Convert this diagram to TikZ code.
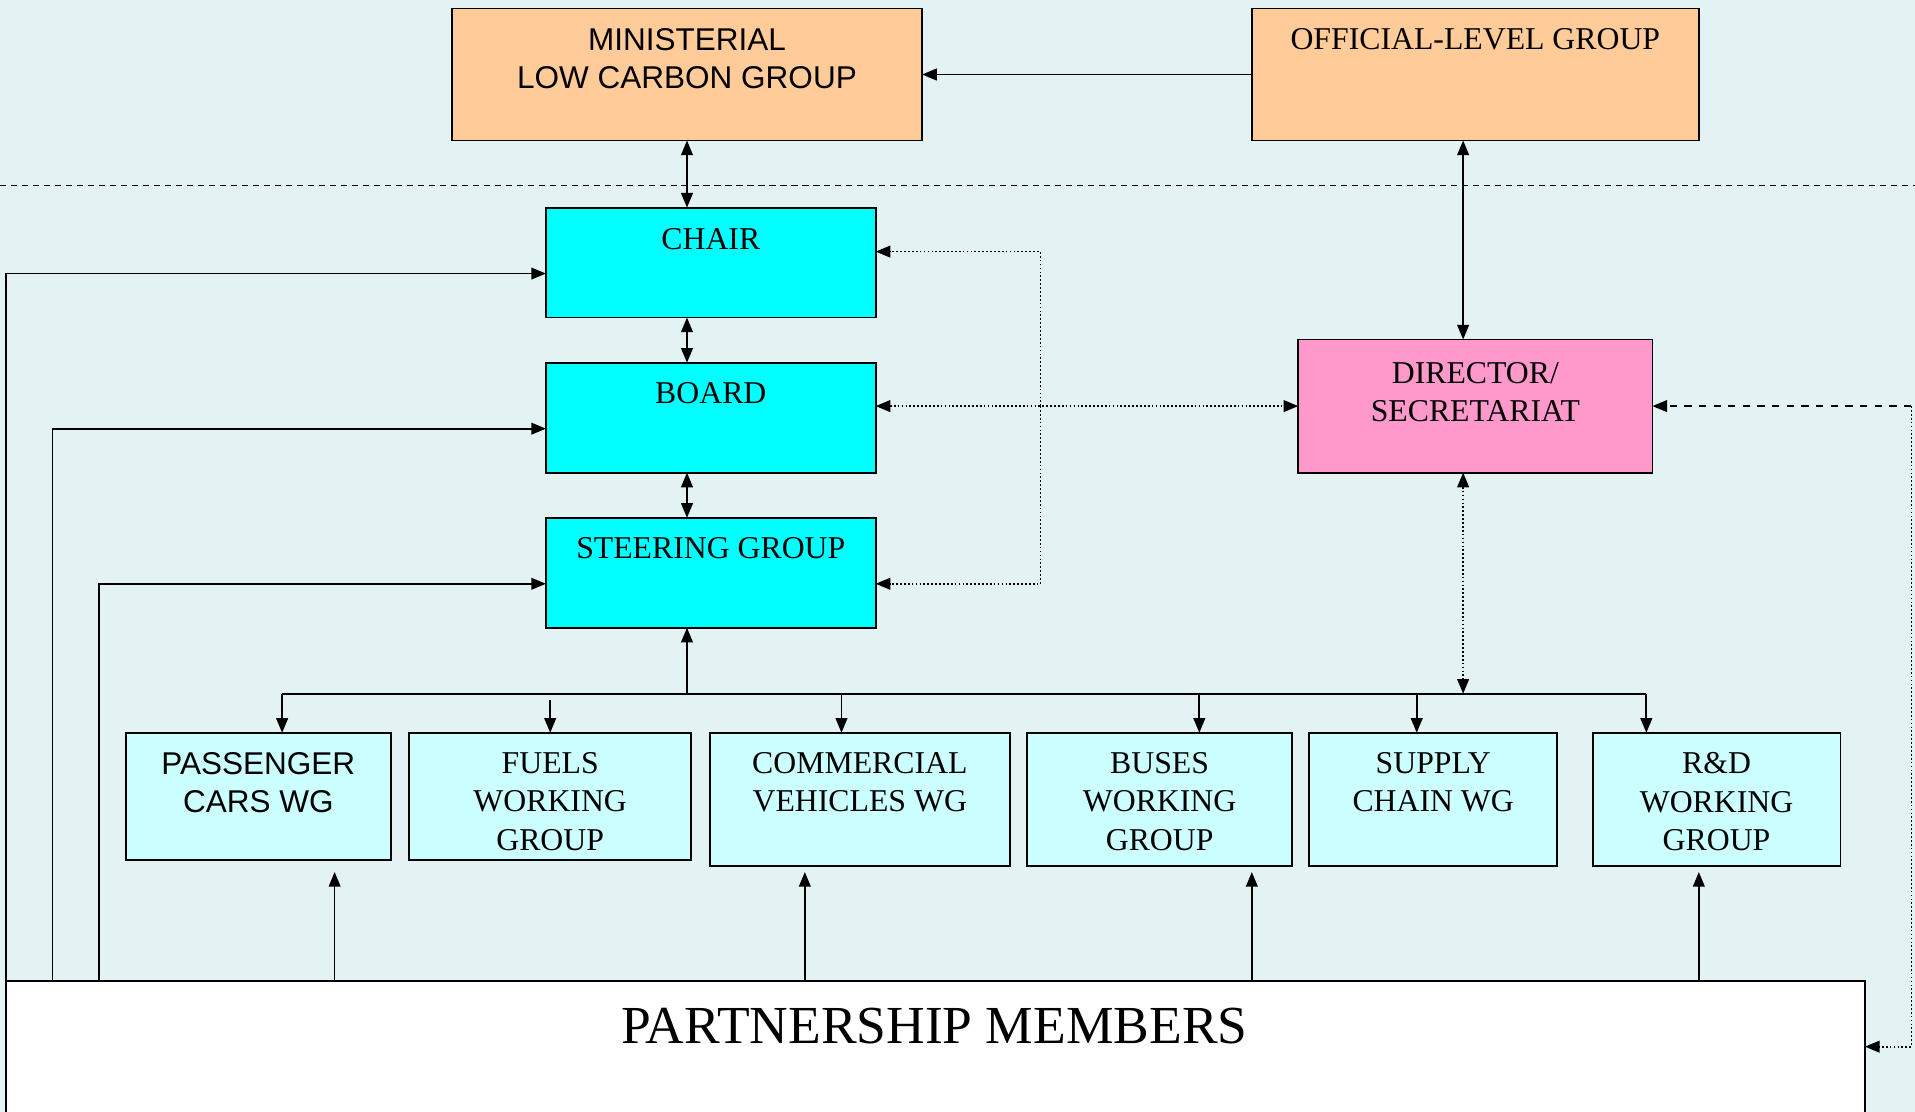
\documentclass[tikz,border=0pt]{standalone}
\usepackage{fontspec}
\setmainfont{Liberation Serif}
\setsansfont{Liberation Sans}
\usetikzlibrary{arrows.meta}

\begin{document}
\begin{tikzpicture}[x=0.5pt, y=-0.5pt,
  >={Triangle[length=6pt,width=4.8pt]},
  box/.style={draw, line width=0.75pt, inner sep=0pt, outer sep=0pt},
  lbl/.style={anchor=north, align=center, inner sep=0pt, font=\fontsize{13}{15.6}\selectfont},
  sanslbl/.style={lbl, font=\fontsize{12.9}{15.6}\selectfont\sffamily},
  link/.style={line width=0.7pt},
  dots/.style={link, dash pattern=on 0.7pt off 0.9pt}]

  \definecolor{bgcyan}  {RGB}{227,243,243}
  \definecolor{peach}   {RGB}{255,204,153}
  \definecolor{aqua}    {RGB}{0,255,255}
  \definecolor{rose}    {RGB}{255,153,204}
  \definecolor{paleaqua}{RGB}{204,255,255}

  % Background and frame
  \fill[bgcyan] (0,0) rectangle (1568,910.5);
  \useasboundingbox (0,0) rectangle (1568,910.5);
  \draw[link, dash pattern=on 2.5pt off 2pt] (0,152) -- (1568,152);

  % Top level
  \node[box, fill=peach, minimum width=192.5pt, minimum height=54pt] (minis) at (562.5,61) {};
  \node[box, fill=peach, minimum width=183pt, minimum height=54pt] (official) at (1208,61) {};
  \node[sanslbl] (ministxt) at (562.5,23) {MINISTERIAL\\LOW CARBON GROUP};
  \node[lbl] (officialtxt) at (1208,23) {OFFICIAL-LEVEL GROUP};

  % Partnership core
  \node[box, fill=aqua, minimum width=135pt, minimum height=45pt] (chair) at (582,215) {};
  \node[box, fill=aqua, minimum width=135pt, minimum height=45pt] (board) at (582,342) {};
  \node[box, fill=aqua, minimum width=135pt, minimum height=45pt] (steer) at (582,469) {};
  \node[box, fill=rose, minimum width=145pt, minimum height=54.5pt] (director) at (1208,332.5) {};
  \node[lbl] (chairtxt) at (582,187) {CHAIR};
  \node[lbl] (boardtxt) at (582,313) {BOARD};
  \node[lbl] (steertxt) at (582,439.5) {STEERING GROUP};
  \node[lbl] (directortxt) at (1208,296) {DIRECTOR/\\SECRETARIAT};

  % Working groups
  \node[box, fill=paleaqua, minimum width=108.5pt, minimum height=52pt] (pcars) at (211.5,652) {};
  \node[box, fill=paleaqua, minimum width=115.5pt, minimum height=52pt] (fuels) at (450.5,652) {};
  \node[box, fill=paleaqua, minimum width=123pt, minimum height=54.5pt] (comm) at (704,654.5) {};
  \node[box, fill=paleaqua, minimum width=108.5pt, minimum height=54.5pt] (buses) at (949.5,654.5) {};
  \node[box, fill=paleaqua, minimum width=101.5pt, minimum height=54.5pt] (supply) at (1173.5,654.5) {};
  \node[box, fill=paleaqua, minimum width=101.5pt, minimum height=54.5pt] (rnd) at (1405.5,654.5) {};
  \node[sanslbl] (pcarstxt) at (211.5,616) {PASSENGER\\CARS WG};
  \node[lbl] (fuelstxt) at (450.5,616) {FUELS\\WORKING\\GROUP};
  \node[lbl] (commtxt) at (704,616) {COMMERCIAL\\VEHICLES WG};
  \node[lbl] (busestxt) at (949.5,616) {BUSES\\WORKING\\GROUP};
  \node[lbl] (supplytxt) at (1173.5,616) {SUPPLY\\CHAIN WG};
  \node[lbl] (rndtxt) at (1405.5,616) {R\&D\\WORKING\\GROUP};

  % Members
  \node[box, line width=0.65pt, fill=white, minimum width=761pt, minimum height=65pt] (members) at (766,868) {};
  \node[lbl, font=\fontsize{21.9}{26}\selectfont] (memberstxt) at (765,825) {PARTNERSHIP MEMBERS};

  \coordinate (busL) at (231,568);
  \coordinate (busR) at (1348,568);
  \coordinate (split) at (852,0);
  \coordinate (rcorner) at (1565,0);
  \coordinate (wgbase) at (0,714);

  % Solid links
  \draw[link,->] (official.west) -- (minis.east);
  \draw[link,<->] (minis.south) -- (minis.south |- chair.north);
  \draw[link,<->] (chair.south -| minis.south) -- (board.north -| minis.south);
  \draw[link,<->] (board.south -| minis.south) -- (steer.north -| minis.south);
  \draw[link,<->] ([xshift=-5pt]official.south) -- ([xshift=-5pt]director.north);
  \draw[link,->] (minis.south |- busL) -- (minis.south |- steer.south);
  \draw[link] (busL) -- (busR);
  \foreach \x/\n in {231/pcars, 689/comm, 982/buses, 1160/supply, 1348/rnd}
    \draw[link,->] (\x,0 |- busL) -- (\x,0 |- \n.north);
  \draw[link,->] ([yshift=-2.5pt]fuels.north |- busL) -- (fuels.north);

  % Members feed
  \draw[link,->] (members.north west) |- ([yshift=-4.5pt]chair.west);
  \draw[link,->] (members.north -| 43,0) |- ([yshift=-4.5pt]board.west);
  \draw[link,->] (members.north -| 81,0) |- ([yshift=-4.5pt]steer.west);
  \foreach \x in {274,659,1025,1391}
    \draw[link,->] (members.north -| \x,0) -- (\x,0 |- wgbase);

  % Secretariat links
  \draw[dots,<->] (board.east |- director.west) -- (director.west);
  \draw[dots,->] (split |- director.west) |- ([yshift=4.5pt]chair.east);
  \draw[dots,->] (split |- director.west) |- ([yshift=-4.5pt]steer.east);
  \draw[dots,<->] ([xshift=-5pt]director.south) -- ([xshift=-5pt]director.south |- busL);
  \draw[link,dashed,->] (rcorner |- director.east) -- (director.east);
  \draw[dots,->] (rcorner |- director.east) |- ([yshift=5.5pt]members.east);
\end{tikzpicture}
\end{document}
